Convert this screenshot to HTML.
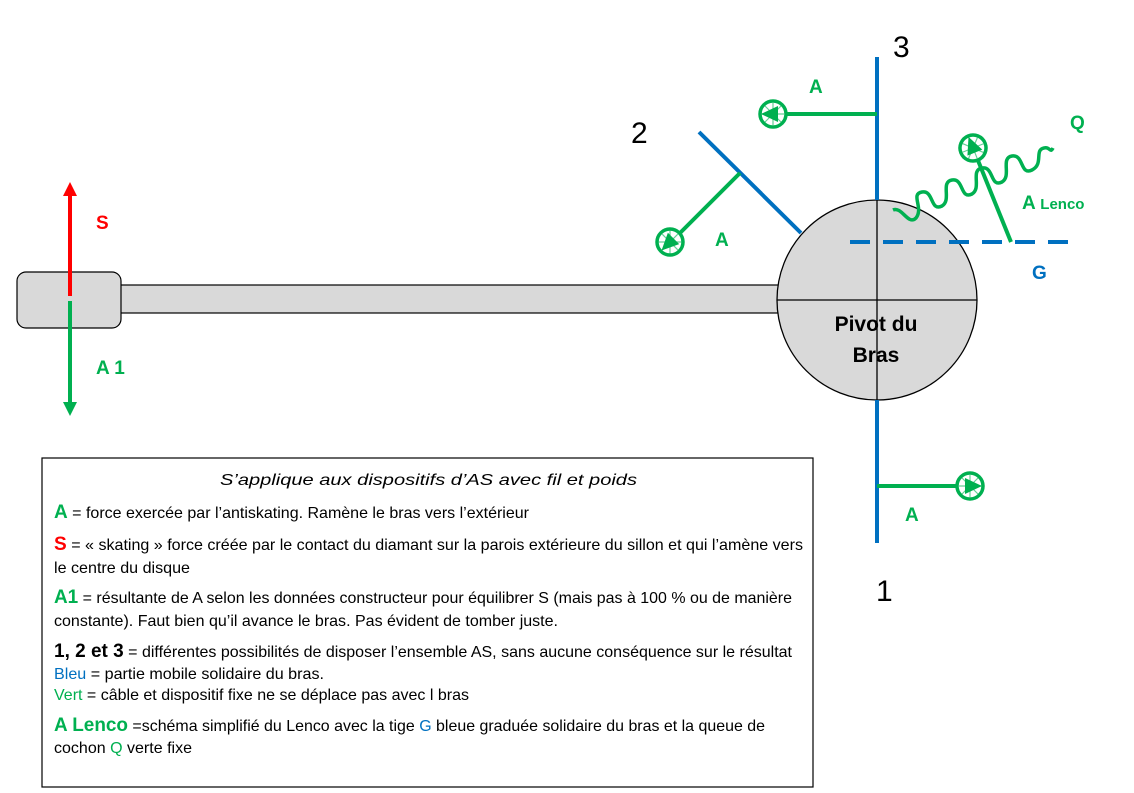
<!DOCTYPE html>
<html><head><meta charset="utf-8"><style>
html,body{margin:0;padding:0;background:#fff;}
svg{display:block;}
.t{font-family:"Liberation Sans Narrow","Liberation Sans",sans-serif;font-size:16px;fill:#000;}
.lb{font-family:"Liberation Sans",sans-serif;font-weight:bold;font-size:19px;}
.n{font-family:"Liberation Sans",sans-serif;font-size:30px;fill:#000;}
</style></head><body>
<svg width="1134" height="793" viewBox="0 0 1134 793" xmlns="http://www.w3.org/2000/svg">
<defs>
<g id="mk">
<circle cx="0" cy="0" r="13" fill="#fff" stroke="#00b050" stroke-width="3.5"/>
<path d="M-8,-8 L8,8 M-8,8 L8,-8 M0,-11 L0,11 M-11,0 L11,0" stroke="#00b050" stroke-width="1.2" opacity="0.6"/>
<path d="M12,0 L-5,-8 L-5,8 z" fill="#00b050"/>
</g>
</defs>

<rect x="118" y="285" width="665" height="28" fill="#d9d9d9" stroke="#000" stroke-width="1.2"/>
<rect x="17" y="272" width="104" height="56" rx="9" fill="#d9d9d9" stroke="#000" stroke-width="1.2"/>

<line x1="70" y1="296" x2="70" y2="194" stroke="#ff0000" stroke-width="4"/>
<path d="M70,182 L63,196 L77,196 z" fill="#ff0000"/>
<line x1="70" y1="301" x2="70" y2="404" stroke="#00b050" stroke-width="4"/>
<path d="M70,416 L63,402 L77,402 z" fill="#00b050"/>
<text class="lb" x="96" y="229" fill="#ff0000">S</text>
<text class="lb" x="96" y="374" fill="#00b050">A 1</text>

<circle cx="877" cy="300" r="100" fill="#d9d9d9" stroke="#000" stroke-width="1.3"/>
<line x1="777" y1="300" x2="977" y2="300" stroke="#000" stroke-width="1.3"/>
<line x1="877" y1="200" x2="877" y2="400" stroke="#000" stroke-width="1.3"/>
<text x="876" y="331" text-anchor="middle" font-family="Liberation Sans, sans-serif" font-weight="bold" font-size="21">Pivot du</text>
<text x="876" y="362" text-anchor="middle" font-family="Liberation Sans, sans-serif" font-weight="bold" font-size="21">Bras</text>

<line x1="877" y1="57" x2="877" y2="200" stroke="#0070c0" stroke-width="4"/>
<line x1="877" y1="400" x2="877" y2="543" stroke="#0070c0" stroke-width="4"/>
<line x1="699" y1="132" x2="801" y2="233" stroke="#0070c0" stroke-width="4"/>
<line x1="850" y1="242" x2="1072" y2="242" stroke="#0070c0" stroke-width="4" stroke-dasharray="20,13"/>

<line x1="877" y1="114" x2="787" y2="114" stroke="#00b050" stroke-width="4"/>
<use href="#mk" transform="translate(773,114) rotate(180)"/>
<line x1="740" y1="173" x2="680" y2="233" stroke="#00b050" stroke-width="4"/>
<use href="#mk" transform="translate(670,242) rotate(135)"/>
<line x1="877" y1="486" x2="958" y2="486" stroke="#00b050" stroke-width="4"/>
<use href="#mk" transform="translate(970,486)"/>
<line x1="1011" y1="242" x2="977" y2="158" stroke="#00b050" stroke-width="4"/>
<use href="#mk" transform="translate(973,148) rotate(-112)"/>
<path d="M893,210 C902,206 908,226 916,218 C924,208 910,194 922,192 C934,190 930,212 942,206 C952,200 940,182 952,180 C964,178 960,200 972,194 C982,188 970,170 982,168 C994,166 990,188 1002,182 C1012,176 1000,158 1012,156 C1024,154 1020,176 1032,170 C1044,164 1034,150 1044,148 C1050,146 1050,154 1053,148" fill="none" stroke="#00b050" stroke-width="3.5"/>

<text class="lb" x="809" y="93" fill="#00b050">A</text>
<text class="lb" x="715" y="246" fill="#00b050">A</text>
<text class="lb" x="905" y="521" fill="#00b050">A</text>
<text class="lb" x="1022" y="209" fill="#00b050">A <tspan font-size="15">Lenco</tspan></text>
<text class="lb" x="1070" y="129" fill="#00b050">Q</text>
<text class="lb" x="1032" y="279" fill="#0070c0">G</text>
<text class="n" x="631" y="143">2</text>
<text class="n" x="893" y="57">3</text>
<text class="n" x="876" y="601">1</text>

<rect x="42" y="458" width="771" height="329" fill="#fff" stroke="#000" stroke-width="1.2"/>
<text class="t" x="220" y="485" font-style="italic" font-size="19" textLength="417" lengthAdjust="spacingAndGlyphs">S’applique aux dispositifs d’AS avec fil et poids</text>
<text class="t" x="54" y="518" textLength="475" lengthAdjust="spacingAndGlyphs"><tspan fill="#00b050" font-weight="bold" font-size="19">A</tspan> = force exercée par l’antiskating. Ramène le bras vers l’extérieur</text>
<text class="t" x="54" y="550" textLength="749" lengthAdjust="spacingAndGlyphs"><tspan fill="#ff0000" font-weight="bold" font-size="19">S</tspan> = « skating » force créée par le contact du diamant sur la parois extérieure du sillon et qui l’amène vers</text>
<text class="t" x="54" y="573" textLength="136" lengthAdjust="spacingAndGlyphs">le centre du disque</text>
<text class="t" x="54" y="603" textLength="738" lengthAdjust="spacingAndGlyphs"><tspan fill="#00b050" font-weight="bold" font-size="19">A1</tspan> = résultante de A selon les données constructeur pour équilibrer S (mais pas à 100 % ou de manière</text>
<text class="t" x="54" y="626" textLength="504" lengthAdjust="spacingAndGlyphs">constante). Faut bien qu’il avance le bras. Pas évident de tomber juste.</text>
<text class="t" x="54" y="657" textLength="738" lengthAdjust="spacingAndGlyphs"><tspan font-weight="bold" font-size="19">1, 2 et 3</tspan> = différentes possibilités de disposer l’ensemble AS, sans aucune conséquence sur le résultat</text>
<text class="t" x="54" y="679" textLength="270" lengthAdjust="spacingAndGlyphs"><tspan fill="#0070c0">Bleu</tspan> = partie mobile solidaire du bras.</text>
<text class="t" x="54" y="700" textLength="415" lengthAdjust="spacingAndGlyphs"><tspan fill="#00b050">Vert</tspan> = câble et  dispositif fixe ne se déplace pas avec l bras</text>
<text class="t" x="54" y="731" textLength="711" lengthAdjust="spacingAndGlyphs"><tspan fill="#00b050" font-weight="bold" font-size="19">A Lenco</tspan>  =schéma simplifié du Lenco avec la tige <tspan fill="#0070c0">G</tspan> bleue graduée solidaire du bras et la queue de</text>
<text class="t" x="54" y="753" textLength="138" lengthAdjust="spacingAndGlyphs">cochon <tspan fill="#00b050">Q</tspan> verte fixe</text>
</svg>
</body></html>
